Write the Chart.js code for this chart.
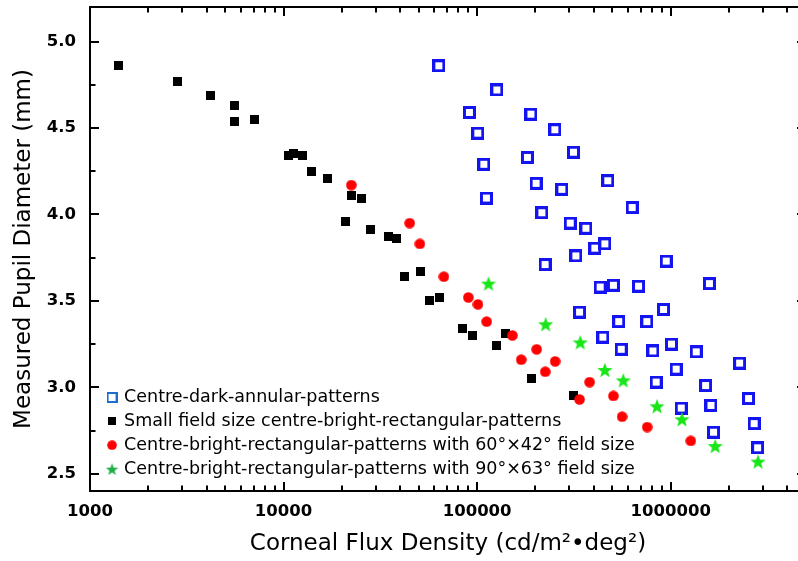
<!DOCTYPE html>
<html>
<head>
<meta charset="utf-8">
<script src="https://cdn.jsdelivr.net/npm/chart.js@4.4.1/dist/chart.umd.min.js"></script>
<style>
  body { margin: 0; overflow: hidden; background: #fff; }
  #wrap { width: 808px; height: 561px; }
</style>
</head>
<body>
<div id="wrap"><canvas id="pupilChart" width="808" height="561"></canvas></div>
<script>
// Series labels
const seriesNames = [
    "Centre-dark-annular-patterns",
    "Small field size centre-bright-rectangular-patterns",
    "Centre-bright-rectangular-patterns with 60°×42° field size",
    "Centre-bright-rectangular-patterns with 90°×63° field size"
];

// Centre-dark-annular-patterns (blue open squares)
const darkX = [63400, 126400, 91200, 189600, 100800, 252000, 314500, 108300, 181900, 201700,
               274000, 473000, 111700, 632000, 216000, 302700, 364600, 405700, 456700, 323600,
               224500, 948000, 432000, 506000, 682000, 1585000, 338000, 539000, 753000, 918000,
               446000, 555000, 809000, 1009000, 1355000, 2270000, 1067000, 841000, 1514000, 2524000,
               1133000, 1614000, 2699000, 1664000, 2812000];
const darkY = [4.86, 4.72, 4.59, 4.58, 4.47, 4.49, 4.36, 4.29, 4.33, 4.18,
               4.145, 4.195, 4.095, 4.04, 4.01, 3.95, 3.92, 3.805, 3.83, 3.76,
               3.71, 3.73, 3.58, 3.59, 3.585, 3.60, 3.435, 3.38, 3.38, 3.45,
               3.29, 3.22, 3.21, 3.25, 3.205, 3.14, 3.105, 3.03, 3.01, 2.935,
               2.88, 2.895, 2.79, 2.74, 2.65];

// Small field size centre-bright (black squares)
const smallX = [1410, 2820, 4210, 5610, 5610, 7040, 10600, 11200, 12600, 14000,
                16800, 21000, 22400, 25200, 28000, 34800, 38100, 42300, 50700, 56500,
                63600, 83600, 95000, 126000, 140000, 190000, 315000];
const smallY = [4.86, 4.77, 4.69, 4.63, 4.54, 4.55, 4.34, 4.355, 4.34, 4.25,
                4.21, 3.96, 4.11, 4.09, 3.91, 3.87, 3.86, 3.64, 3.67, 3.50,
                3.52, 3.34, 3.30, 3.24, 3.31, 3.05, 2.95];

// 60x42 field size (red circles)
const redX = [22400, 44800, 50600, 67300, 90100, 101000, 112000, 152000, 169000, 203000,
              225000, 253000, 338000, 381000, 506000, 561000, 756000, 1270000];
const redY = [4.17, 3.95, 3.83, 3.64, 3.52, 3.48, 3.38, 3.30, 3.16, 3.22,
              3.09, 3.15, 2.93, 3.03, 2.95, 2.83, 2.77, 2.69];

// 90x63 field size (green stars)
const starX = [114500, 226000, 341000, 457000, 569000, 849000, 1143000, 1698000, 2825000];
const starY = [3.60, 3.365, 3.26, 3.10, 3.04, 2.89, 2.815, 2.66, 2.57];

// Axis ticks
const xTicks = [1000, 10000, 100000, 1000000];
const yTicks = [2.5, 3.0, 3.5, 4.0, 4.5, 5.0];

// ---- marker images ----
function makeCanvas(w, h) {
    const c = document.createElement("canvas");
    c.width = w; c.height = h;
    return c;
}
function openSquare(size, border, color) {
    const c = makeCanvas(size, size), g = c.getContext("2d");
    g.fillStyle = color;
    g.fillRect(0, 0, size, size);
    g.fillStyle = "#fff";
    g.fillRect(border, border, size - 2 * border, size - 2 * border);
    return c;
}
function filledSquare(size, color) {
    const c = makeCanvas(size, size), g = c.getContext("2d");
    g.fillStyle = color;
    g.fillRect(0, 0, size, size);
    return c;
}
function dot(size, color) {
    const c = makeCanvas(size, size), g = c.getContext("2d");
    g.fillStyle = color;
    g.beginPath();
    g.arc(size / 2, size / 2, size / 2 - 0.2, 0, Math.PI * 2);
    g.fill();
    return c;
}
function star(size, color) {
    const c = makeCanvas(size, size), g = c.getContext("2d");
    const R = size / 2, r = R * 0.42, cx = size / 2, cy = size / 2 + R * 0.09;
    g.fillStyle = color;
    g.beginPath();
    for (let i = 0; i < 10; i++) {
        const rad = i % 2 ? r : R;
        const a = -Math.PI / 2 + i * Math.PI / 5;
        g.lineTo(cx + rad * Math.cos(a), cy + rad * Math.sin(a));
    }
    g.closePath();
    g.fill();
    return c;
}

const plotMarks = [
    openSquare(13, 3, "#1414f0"),
    filledSquare(9, "#000"),
    dot(11, "#ff0000"),
    star(16, "#19e619")
];
const legendMarks = [
    openSquare(11, 2, "#1c6fd0"),
    filledSquare(8, "#000"),
    dot(10, "#ff0000"),
    star(13, "#1fae48")
];

function toPoints(xs, ys) {
    return xs.map((x, i) => ({x: x, y: ys[i]}));
}

// ---- frame with inward ticks on all four sides ----
const framePlugin = {
    id: "frame",
    afterLayout(chart) {
        const lg = chart.legend;
        const w = lg.width, h = lg.height;
        lg.left = 102.4; lg.top = 382.3;
        lg.right = lg.left + w; lg.bottom = lg.top + h;
    },
    afterDraw(chart) {
        const {ctx, chartArea: a, scales} = chart;
        const xs = scales.x, ys = scales.y;
        ctx.save();
        ctx.strokeStyle = "#000";
        ctx.lineWidth = 2;
        ctx.lineCap = "butt";
        ctx.beginPath();
        // x ticks (log decades with minors)
        for (let d = 1000; d <= xs.max; d *= 10) {
            for (let k = 1; k <= 9; k++) {
                const v = d * k;
                if (v < xs.min || v > xs.max) continue;
                const px = Math.round(xs.getPixelForValue(v));
                const len = k === 1 ? 9 : 5.5;
                ctx.moveTo(px, a.bottom); ctx.lineTo(px, a.bottom - len);
                ctx.moveTo(px, a.top); ctx.lineTo(px, a.top + len);
            }
        }
        // y ticks (0.25 steps, labelled every 0.5)
        for (let i = 0; i <= 10; i++) {
            const v = 2.5 + i * 0.25;
            const py = Math.round(ys.getPixelForValue(v));
            const len = i % 2 === 0 ? 9 : 5.5;
            ctx.moveTo(a.left, py); ctx.lineTo(a.left + len, py);
            ctx.moveTo(a.right, py); ctx.lineTo(a.right - len, py);
        }
        ctx.stroke();
        ctx.strokeRect(a.left, a.top, a.right - a.left, a.bottom - a.top);
        ctx.restore();
    }
};

Chart.defaults.font.family = "'DejaVu Sans', sans-serif";
Chart.defaults.color = "#000";

new Chart(document.getElementById("pupilChart"), {
    type: "scatter",
    data: {
        datasets: [
            {label: seriesNames[0], data: toPoints(darkX, darkY), pointStyle: plotMarks[0], order: 4},
            {label: seriesNames[1], data: toPoints(smallX, smallY), pointStyle: plotMarks[1], order: 3},
            {label: seriesNames[2], data: toPoints(redX, redY), pointStyle: plotMarks[2], order: 2},
            {label: seriesNames[3], data: toPoints(starX, starY), pointStyle: plotMarks[3], order: 1}
        ]
    },
    options: {
        responsive: false,
        animation: false,
        devicePixelRatio: 1,
        layout: {autoPadding: false, padding: {top: 7, right: 2, left: 0, bottom: 0}},
        plugins: {
            tooltip: {enabled: false},
            legend: {
                position: "chartArea",
                align: "start",
                labels: {
                    usePointStyle: true,
                    boxWidth: 6.5,
                    padding: 6.4,
                    color: "#000",
                    font: {size: 17.5},
                    generateLabels(chart) {
                        const items = Chart.defaults.plugins.legend.labels.generateLabels(chart);
                        items.forEach(it => { it.pointStyle = legendMarks[it.datasetIndex]; });
                        items.sort((p, q) => p.datasetIndex - q.datasetIndex);
                        return items;
                    }
                }
            }
        },
        scales: {
            x: {
                type: "logarithmic",
                min: 1000,
                max: 5000000,
                afterBuildTicks(scale) {
                    scale.ticks = xTicks.map(v => ({value: v, major: true}));
                },
                afterFit(scale) {
                    scale.height = 70;
                    scale.paddingLeft = 0; scale.paddingRight = 0;
                    scale.paddingTop = 0; scale.paddingBottom = 0;
                },
                ticks: {
                    autoSkip: false,
                    maxRotation: 0,
                    padding: 11,
                    font: {size: 16.5, weight: "bold"},
                    callback: v => String(v)
                },
                grid: {display: false, drawTicks: false},
                border: {display: false},
                title: {
                    display: true,
                    text: "Corneal Flux Density (cd/m²•deg²)",
                    font: {size: 23},
                    padding: {top: 0, bottom: 3}
                }
            },
            y: {
                min: 2.4,
                max: 5.2,
                afterBuildTicks(scale) {
                    scale.ticks = yTicks.map(v => ({value: v}));
                },
                afterFit(scale) {
                    scale.width = 90;
                    scale.paddingLeft = 0; scale.paddingRight = 0;
                    scale.paddingTop = 0; scale.paddingBottom = 0;
                },
                ticks: {
                    padding: 14,
                    font: {size: 16.5, weight: "bold"},
                    callback: v => Number(v).toFixed(1)
                },
                grid: {display: false, drawTicks: false},
                border: {display: false},
                title: {
                    display: true,
                    text: "Measured Pupil Diameter (mm)",
                    font: {size: 23},
                    padding: {top: 10, bottom: 0}
                }
            }
        }
    },
    plugins: [framePlugin]
});
</script>
</body>
</html>
